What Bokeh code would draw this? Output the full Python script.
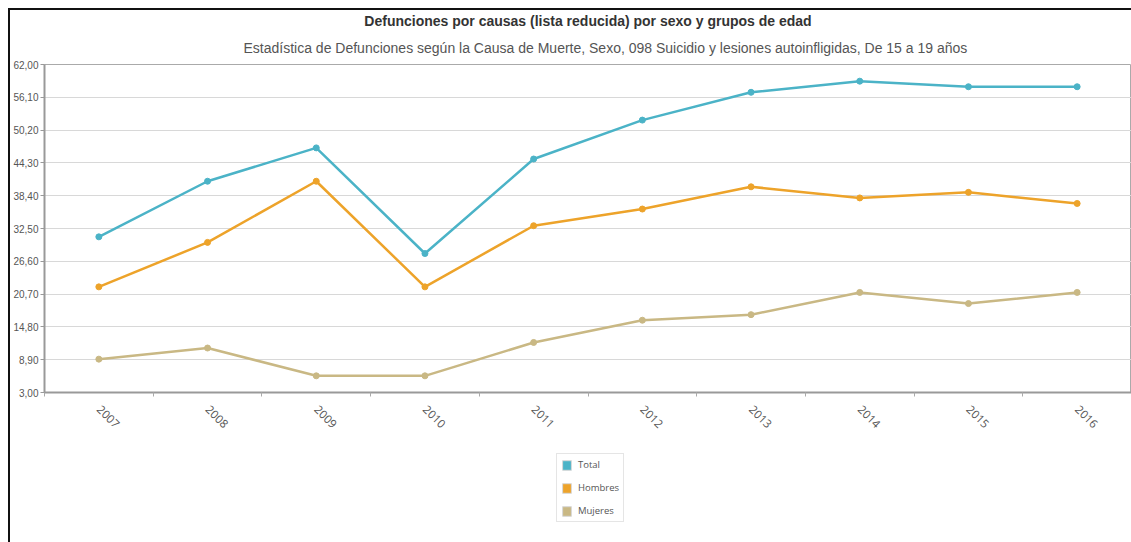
import math
from bokeh.plotting import figure
from bokeh.layouts import column
from bokeh.models import FixedTicker, Legend, LegendItem, Title, ColumnDataSource
from bokeh.embed import file_html
from bokeh.resources import INLINE

years = [2007, 2008, 2009, 2010, 2011, 2012, 2013, 2014, 2015, 2016]
total = [31, 41, 47, 28, 45, 52, 57, 59, 58, 58]
hombres = [22, 30, 41, 22, 33, 36, 40, 38, 39, 37]
mujeres = [9, 11, 6, 6, 12, 16, 17, 21, 19, 21]
y_ticks = [3.0, 8.9, 14.8, 20.7, 26.6, 32.5, 38.4, 44.3, 50.2, 56.1, 62.0]
y_tick_labels = ["3,00", "8,90", "14,80", "20,70", "26,60", "32,50", "38,40", "44,30", "50,20", "56,10", "62,00"]
year_labels = [str(y) for y in years]
series_names = ["Total", "Hombres", "Mujeres"]
colors = ["#4bb3c7", "#eda32a", "#c9b884"]

main_title = "Defunciones por causas (lista reducida) por sexo y grupos de edad"
sub_title = "Estadística de Defunciones según la Causa de Muerte, Sexo, 098  Suicidio y lesiones autoinfligidas, De 15 a 19 años"

FONT = "Liberation Sans"

p = figure(frame_width=1087, frame_height=328,
           x_range=(years[0] - 0.5, years[-1] + 0.5), y_range=(y_ticks[0], y_ticks[-1]),
           output_backend="svg", toolbar_location=None,
           min_border_left=34, min_border_right=0, min_border_top=54, min_border_bottom=60)

p.add_layout(Title(text=sub_title, align="left", offset=199, text_font_size="14px",
                   text_font_style="normal", text_color="#555555", text_font=FONT, standoff=18), "above")
p.add_layout(Title(text=main_title, align="center", text_font_size="14px",
                   text_font_style="bold", text_color="#333333", text_font=FONT, standoff=0), "above")

p.background_fill_color = "white"
p.border_fill_color = "white"
p.outline_line_color = "#aaaaaa"
p.outline_line_width = 1

# y axis
p.yaxis.ticker = FixedTicker(ticks=y_ticks)
p.yaxis.major_label_overrides = {t: l for t, l in zip(y_ticks, y_tick_labels)}
p.yaxis.major_label_text_font = FONT
p.yaxis.major_label_text_font_size = "10px"
p.yaxis.major_label_text_color = "#555555"
p.yaxis.axis_line_color = "#999999"
p.yaxis.axis_line_width = 2
p.yaxis.major_tick_line_color = "#999999"
p.yaxis.major_tick_in = 0
p.yaxis.major_tick_out = 4
p.yaxis.minor_tick_line_color = None
p.yaxis.major_label_standoff = 2

# x axis
p.xaxis.ticker = FixedTicker(ticks=years, minor_ticks=[y + 0.5 for y in [years[0] - 1] + years])
p.xaxis.major_label_overrides = {y: l for y, l in zip(years, year_labels)}
p.xaxis.major_label_orientation = -math.pi / 4
p.xaxis.major_label_text_font = "Open Sans"
p.xaxis.major_label_text_font_size = "11.5px"
p.xaxis.major_label_text_color = "#555555"
p.xaxis.axis_line_color = "#999999"
p.xaxis.axis_line_width = 2
p.xaxis.major_tick_line_color = None
p.xaxis.minor_tick_line_color = "#aaaaaa"
p.xaxis.minor_tick_in = 0
p.xaxis.minor_tick_out = 4
p.xaxis.major_label_standoff = 9

p.xgrid.grid_line_color = None
p.ygrid.grid_line_color = "#d8d8d8"
p.ygrid.grid_line_width = 1

series = list(zip(series_names, [total, hombres, mujeres], colors))
for name, vals, col in reversed(series):
    src = ColumnDataSource(dict(x=years, y=vals))
    p.line("x", "y", source=src, line_color=col, line_width=2.5)
    p.scatter("x", "y", source=src, size=6, fill_color=col, line_color=col)

# legend panel below the chart (its own small figure)
lp = figure(frame_width=1087, frame_height=70, x_range=(0, 1), y_range=(0, 1),
            x_axis_type=None, y_axis_type=None,
            output_backend="svg", toolbar_location=None,
            min_border_left=34, min_border_right=0, min_border_top=0, min_border_bottom=30)
lp.outline_line_color = None
lp.grid.grid_line_color = None
lp.background_fill_color = "white"
lp.border_fill_color = "white"

legend_items = []
for name, vals, col in series:
    # swatch renderers: data lies outside this panel's ranges, so only the legend shows them
    src = ColumnDataSource(dict(x=years, y=vals))
    r = lp.quad(left="x", right="x", top="y", bottom="y", source=src,
                fill_color=col, line_color="#d8d8d8", line_width=1)
    legend_items.append(LegendItem(label=name, renderers=[r]))

legend = Legend(items=legend_items, location=(512, 0), orientation="vertical",
                glyph_width=11, glyph_height=12, label_text_font="Open Sans",
                label_text_font_size="9.5px", label_text_color="#555555",
                spacing=10, padding=4, border_line_color="#cccccc",
                background_fill_color="white", margin=0, label_standoff=6)
lp.add_layout(legend, "center")

layout = column(p, lp, spacing=0, margin=(8, 0, 0, 8),
                styles={"border-left": "2px solid #111", "border-top": "2px solid #111"})

open("out.html", "w").write(file_html(layout, INLINE))
